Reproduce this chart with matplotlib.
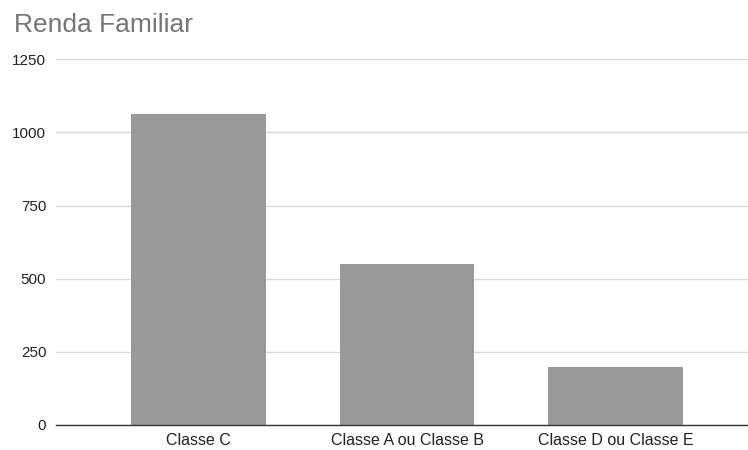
import matplotlib
matplotlib.use("Agg")
import matplotlib.pyplot as plt

categories = ["Classe C", "Classe A ou Classe B", "Classe D ou Classe E"]
values = [1063, 549, 198]
y_ticks = [0, 250, 500, 750, 1000, 1250]

plt.rcParams['font.family'] = ['Liberation Sans', 'DejaVu Sans']

fig = plt.figure(figsize=(7.48, 4.5), dpi=100)
ax = fig.add_axes([56 / 748, 1 - 425 / 450, 692 / 748, (425 - 59.3) / 450])

x = list(range(len(categories)))
ax.bar(x, values, width=0.647, color="#999999", zorder=3)

ax.set_ylim(0, 1250)
ax.set_xlim(-0.683, 2.635)
ax.set_yticks(y_ticks)
ax.set_yticklabels([str(v) for v in y_ticks])
ax.set_xticks(x)
ax.set_xticklabels(categories)

ax.grid(axis="y", color="#d9d9d9", linewidth=1.0, zorder=0)
ax.grid(axis="x", visible=False)
for side in ["top", "right", "left"]:
    ax.spines[side].set_visible(False)
ax.spines["bottom"].set_color("#333333")
ax.spines["bottom"].set_linewidth(1.0)
ax.spines["bottom"].set_zorder(4)

ax.tick_params(axis="y", length=0, pad=7, labelsize=11, labelcolor="#222222")
ax.tick_params(axis="x", length=0, pad=6, labelsize=11.5, labelcolor="#222222")

fig.text(14 / 748, 1 - 32 / 450, "Renda Familiar", fontsize=19, color="#757575",
         ha="left", va="baseline")

fig.savefig("out.png", dpi=100)
